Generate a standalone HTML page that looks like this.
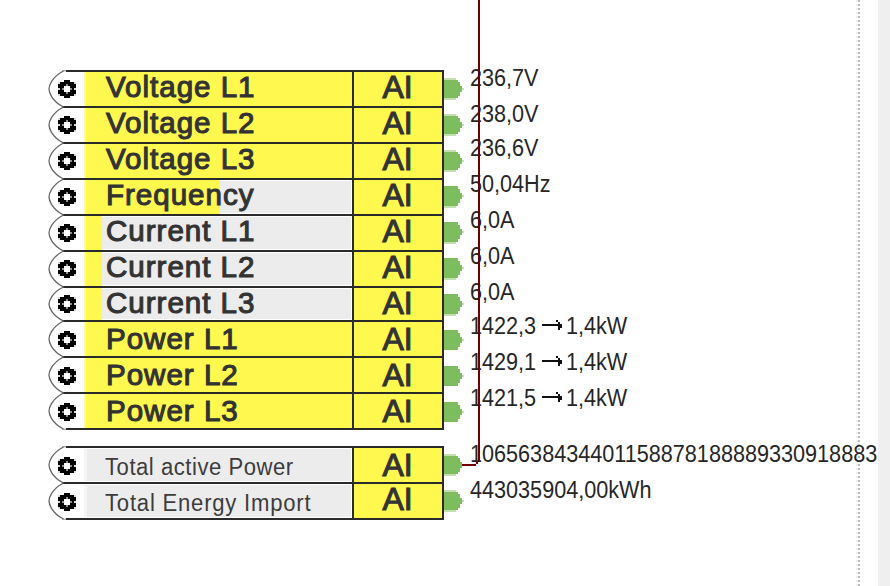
<!DOCTYPE html>
<html><head><meta charset="utf-8"><style>
html,body{margin:0;padding:0;background:#fff;width:890px;height:586px;overflow:hidden;position:relative;font-family:"Liberation Sans",sans-serif;}
.a{position:absolute;}
.ln{position:absolute;background:#2a2a2a;}
.lbl{position:absolute;left:106px;color:#333;white-space:nowrap;transform-origin:0 0;}
.b{font-weight:normal;font-size:30px;letter-spacing:1.0px;transform:scaleX(0.985);-webkit-text-stroke:1.1px #333;}
.r{color:#3c3c3c;font-size:23px;letter-spacing:0.7px;transform:scaleX(0.96);}
.ai{position:absolute;left:354px;width:88px;text-align:center;color:#333;}
.ai span{display:inline-block;font-weight:normal;font-size:31px;transform:scaleX(1.03);-webkit-text-stroke:1.1px #333;}
.val{position:absolute;left:470px;font-size:23px;letter-spacing:0px;color:#262626;white-space:nowrap;transform-origin:0 0;transform:scaleX(0.94);}
.ar{margin:0 1px;}
svg{shape-rendering:geometricPrecision}
.ck{shape-rendering:crispEdges}
</style></head><body>

<div class="a" style="left:878px;top:0;width:12px;height:586px;background:#efefef"></div>
<div class="a" style="left:858px;top:0;width:2px;height:586px;background:repeating-linear-gradient(to bottom,#bababa 0 2px,transparent 2px 4px)"></div>
<div class="a" style="left:856px;top:0;width:2px;height:586px;background:repeating-linear-gradient(to bottom,#f0f0f0 0 2px,transparent 2px 4px)"></div>
<div class="a" style="left:84px;top:72px;width:268px;height:34px;background:#fff84e"></div>
<div class="a" style="left:84px;top:72px;width:2px;height:34px;background:#fcf9a6"></div>
<div class="a" style="left:354px;top:72px;width:88px;height:34px;background:#fff84e"></div>
<div class="ln" style="left:66px;top:70px;width:378px;height:2px"></div>
<div class="a" style="left:62px;top:70px;width:4px;height:1px;background:#aaa"></div>
<div class="a" style="left:62px;top:71px;width:4px;height:1px;background:#ddd"></div>
<div class="ln" style="left:352px;top:70px;width:2px;height:38px"></div>
<div class="ln" style="left:442px;top:70px;width:2px;height:38px"></div>
<div class="lbl b" style="top:70px;line-height:34px">Voltage L1</div>
<div class="ai" style="top:71px;line-height:34px"><span>AI</span></div>
<div class="val" style="top:65px;line-height:26px">236,7V</div>
<div class="a" style="left:84px;top:108px;width:268px;height:34px;background:#fff84e"></div>
<div class="a" style="left:84px;top:108px;width:2px;height:34px;background:#fcf9a6"></div>
<div class="a" style="left:354px;top:108px;width:88px;height:34px;background:#fff84e"></div>
<div class="ln" style="left:62px;top:106px;width:382px;height:2px"></div>
<div class="ln" style="left:352px;top:106px;width:2px;height:38px"></div>
<div class="ln" style="left:442px;top:106px;width:2px;height:38px"></div>
<div class="lbl b" style="top:106px;line-height:34px">Voltage L2</div>
<div class="ai" style="top:107px;line-height:34px"><span>AI</span></div>
<div class="val" style="top:101px;line-height:26px">238,0V</div>
<div class="a" style="left:84px;top:144px;width:268px;height:34px;background:#fff84e"></div>
<div class="a" style="left:84px;top:144px;width:2px;height:34px;background:#fcf9a6"></div>
<div class="a" style="left:354px;top:144px;width:88px;height:34px;background:#fff84e"></div>
<div class="ln" style="left:62px;top:142px;width:382px;height:2px"></div>
<div class="ln" style="left:352px;top:142px;width:2px;height:38px"></div>
<div class="ln" style="left:442px;top:142px;width:2px;height:38px"></div>
<div class="lbl b" style="top:142px;line-height:34px">Voltage L3</div>
<div class="ai" style="top:143px;line-height:34px"><span>AI</span></div>
<div class="val" style="top:135px;line-height:26px">236,6V</div>
<div class="a" style="left:84px;top:181px;width:267px;height:32px;background:#ececec"></div>
<div class="a" style="left:84px;top:180px;width:136px;height:34px;background:#fff84e"></div>
<div class="a" style="left:84px;top:180px;width:2px;height:34px;background:#fcf9a6"></div>
<div class="a" style="left:354px;top:180px;width:88px;height:34px;background:#fff84e"></div>
<div class="ln" style="left:62px;top:178px;width:382px;height:2px"></div>
<div class="ln" style="left:352px;top:178px;width:2px;height:38px"></div>
<div class="ln" style="left:442px;top:178px;width:2px;height:38px"></div>
<div class="lbl b" style="top:178px;line-height:34px">Frequency</div>
<div class="ai" style="top:179px;line-height:34px"><span>AI</span></div>
<div class="val" style="top:171px;line-height:26px">50,04Hz</div>
<div class="a" style="left:84px;top:217px;width:267px;height:32px;background:#ececec"></div>
<div class="a" style="left:84px;top:216px;width:18px;height:34px;background:#fff84e"></div>
<div class="a" style="left:84px;top:216px;width:2px;height:34px;background:#fcf9a6"></div>
<div class="a" style="left:354px;top:216px;width:88px;height:34px;background:#fff84e"></div>
<div class="ln" style="left:62px;top:214px;width:382px;height:2px"></div>
<div class="ln" style="left:352px;top:214px;width:2px;height:38px"></div>
<div class="ln" style="left:442px;top:214px;width:2px;height:38px"></div>
<div class="lbl b" style="top:214px;line-height:34px">Current L1</div>
<div class="ai" style="top:215px;line-height:34px"><span>AI</span></div>
<div class="val" style="top:207px;line-height:26px">6,0A</div>
<div class="a" style="left:84px;top:253px;width:267px;height:32px;background:#ececec"></div>
<div class="a" style="left:84px;top:252px;width:18px;height:34px;background:#fff84e"></div>
<div class="a" style="left:84px;top:252px;width:2px;height:34px;background:#fcf9a6"></div>
<div class="a" style="left:354px;top:252px;width:88px;height:34px;background:#fff84e"></div>
<div class="ln" style="left:62px;top:250px;width:382px;height:2px"></div>
<div class="ln" style="left:352px;top:250px;width:2px;height:38px"></div>
<div class="ln" style="left:442px;top:250px;width:2px;height:38px"></div>
<div class="lbl b" style="top:250px;line-height:34px">Current L2</div>
<div class="ai" style="top:251px;line-height:34px"><span>AI</span></div>
<div class="val" style="top:243px;line-height:26px">6,0A</div>
<div class="a" style="left:84px;top:289px;width:267px;height:30px;background:#ececec"></div>
<div class="a" style="left:84px;top:288px;width:18px;height:32px;background:#fff84e"></div>
<div class="a" style="left:84px;top:288px;width:2px;height:32px;background:#fcf9a6"></div>
<div class="a" style="left:354px;top:288px;width:88px;height:32px;background:#fff84e"></div>
<div class="ln" style="left:62px;top:286px;width:382px;height:2px"></div>
<div class="ln" style="left:352px;top:286px;width:2px;height:36px"></div>
<div class="ln" style="left:442px;top:286px;width:2px;height:36px"></div>
<div class="lbl b" style="top:286px;line-height:34px">Current L3</div>
<div class="ai" style="top:287px;line-height:34px"><span>AI</span></div>
<div class="val" style="top:279px;line-height:26px">6,0A</div>
<div class="a" style="left:84px;top:322px;width:268px;height:34px;background:#fff84e"></div>
<div class="a" style="left:84px;top:322px;width:2px;height:34px;background:#fcf9a6"></div>
<div class="a" style="left:354px;top:322px;width:88px;height:34px;background:#fff84e"></div>
<div class="ln" style="left:62px;top:320px;width:382px;height:2px"></div>
<div class="ln" style="left:352px;top:320px;width:2px;height:38px"></div>
<div class="ln" style="left:442px;top:320px;width:2px;height:38px"></div>
<div class="lbl b" style="top:322px;line-height:34px">Power L1</div>
<div class="ai" style="top:323px;line-height:34px"><span>AI</span></div>
<div class="val" style="top:313px;line-height:26px;left:470px">1422,3</div>
<div class="val" style="top:313px;line-height:26px;left:566px">1,4kW</div>
<div class="a" style="left:84px;top:358px;width:268px;height:34px;background:#fff84e"></div>
<div class="a" style="left:84px;top:358px;width:2px;height:34px;background:#fcf9a6"></div>
<div class="a" style="left:354px;top:358px;width:88px;height:34px;background:#fff84e"></div>
<div class="ln" style="left:62px;top:356px;width:382px;height:2px"></div>
<div class="ln" style="left:352px;top:356px;width:2px;height:38px"></div>
<div class="ln" style="left:442px;top:356px;width:2px;height:38px"></div>
<div class="lbl b" style="top:358px;line-height:34px">Power L2</div>
<div class="ai" style="top:359px;line-height:34px"><span>AI</span></div>
<div class="val" style="top:349px;line-height:26px;left:470px">1429,1</div>
<div class="val" style="top:349px;line-height:26px;left:566px">1,4kW</div>
<div class="a" style="left:84px;top:394px;width:268px;height:34px;background:#fff84e"></div>
<div class="a" style="left:84px;top:394px;width:2px;height:34px;background:#fcf9a6"></div>
<div class="a" style="left:354px;top:394px;width:88px;height:34px;background:#fff84e"></div>
<div class="ln" style="left:62px;top:392px;width:382px;height:2px"></div>
<div class="ln" style="left:66px;top:428px;width:378px;height:2px"></div>
<div class="a" style="left:62px;top:429px;width:4px;height:1px;background:#aaa"></div>
<div class="a" style="left:62px;top:428px;width:4px;height:1px;background:#ddd"></div>
<div class="ln" style="left:352px;top:392px;width:2px;height:38px"></div>
<div class="ln" style="left:442px;top:392px;width:2px;height:38px"></div>
<div class="lbl b" style="top:394px;line-height:34px">Power L3</div>
<div class="ai" style="top:395px;line-height:34px"><span>AI</span></div>
<div class="val" style="top:385px;line-height:26px;left:470px">1421,5</div>
<div class="val" style="top:385px;line-height:26px;left:566px">1,4kW</div>
<div class="a" style="left:84px;top:449px;width:267px;height:32px;background:#ececec"></div>
<div class="a" style="left:84px;top:449px;width:3px;height:32px;background:#f4f4f4"></div>
<div class="a" style="left:354px;top:448px;width:88px;height:34px;background:#fff84e"></div>
<div class="ln" style="left:66px;top:446px;width:378px;height:2px"></div>
<div class="a" style="left:62px;top:446px;width:4px;height:1px;background:#aaa"></div>
<div class="a" style="left:62px;top:447px;width:4px;height:1px;background:#ddd"></div>
<div class="ln" style="left:352px;top:446px;width:2px;height:38px"></div>
<div class="ln" style="left:442px;top:446px;width:2px;height:38px"></div>
<div class="lbl r" style="top:450px;line-height:34px;left:105px;letter-spacing:0.55px">Total active Power</div>
<div class="ai" style="top:449px;line-height:34px"><span>AI</span></div>
<div class="val" style="top:441px;line-height:26px">1065638434401158878188889330918883</div>
<div class="a" style="left:84px;top:485px;width:267px;height:32px;background:#ececec"></div>
<div class="a" style="left:84px;top:485px;width:3px;height:32px;background:#f4f4f4"></div>
<div class="a" style="left:354px;top:484px;width:88px;height:34px;background:#fff84e"></div>
<div class="ln" style="left:62px;top:482px;width:382px;height:2px"></div>
<div class="ln" style="left:66px;top:518px;width:378px;height:2px"></div>
<div class="a" style="left:62px;top:519px;width:4px;height:1px;background:#aaa"></div>
<div class="a" style="left:62px;top:518px;width:4px;height:1px;background:#ddd"></div>
<div class="ln" style="left:352px;top:482px;width:2px;height:38px"></div>
<div class="ln" style="left:442px;top:482px;width:2px;height:38px"></div>
<div class="lbl r" style="top:486px;line-height:34px;left:105px;letter-spacing:0.82px">Total Energy Import</div>
<div class="ai" style="top:483px;line-height:34px"><span>AI</span></div>
<div class="val" style="top:477px;line-height:26px">443035904,00kWh</div>
<svg class="a" style="left:0;top:0" width="890" height="586" viewBox="0 0 890 586"><path d="M63.5,71.0 C51.1,77.3 49,86.6 49,89.0 C49,91.4 51.1,100.7 63.5,107.0" fill="none" stroke="#666" stroke-width="1.3"/><g transform="translate(58,80)"><g class="ck"><path fill="#000" fill-rule="evenodd" d="M6,0 H12 V2 H16 V4 H18 V8 H16 V10 H18 V14 H16 V16 H12 V18 H6 V16 H2 V14 H0 V10 H2 V8 H0 V4 H2 V2 H6 Z M6,6 V12 H12 V6 Z"/><g fill="#8c8c8c"><rect x="8" y="4" width="2" height="2"/><rect x="8" y="12" width="2" height="2"/><rect x="4" y="8" width="2" height="2"/><rect x="12" y="8" width="2" height="2"/></g><g fill="#d8d8d8"><rect x="0" y="2" width="2" height="2"/><rect x="16" y="2" width="2" height="2"/><rect x="0" y="14" width="2" height="2"/><rect x="16" y="14" width="2" height="2"/><rect x="0" y="8" width="2" height="2"/><rect x="16" y="8" width="2" height="2"/></g></g></g><g class="ck" transform="translate(444,70)"><rect x="0" y="8" width="12" height="22" fill="#c2e0b2"/><rect x="0" y="10" width="14" height="18" fill="#7dbd5e"/><rect x="14" y="12" width="2" height="14" fill="#7dbd5e"/><rect x="16" y="16" width="2" height="6" fill="#7dbd5e"/><rect x="18" y="18" width="2" height="2" fill="#c2e0b2"/></g><path d="M63.5,107.0 C51.1,113.3 49,122.6 49,125.0 C49,127.4 51.1,136.7 63.5,143.0" fill="none" stroke="#666" stroke-width="1.3"/><g transform="translate(58,116)"><g class="ck"><path fill="#000" fill-rule="evenodd" d="M6,0 H12 V2 H16 V4 H18 V8 H16 V10 H18 V14 H16 V16 H12 V18 H6 V16 H2 V14 H0 V10 H2 V8 H0 V4 H2 V2 H6 Z M6,6 V12 H12 V6 Z"/><g fill="#8c8c8c"><rect x="8" y="4" width="2" height="2"/><rect x="8" y="12" width="2" height="2"/><rect x="4" y="8" width="2" height="2"/><rect x="12" y="8" width="2" height="2"/></g><g fill="#d8d8d8"><rect x="0" y="2" width="2" height="2"/><rect x="16" y="2" width="2" height="2"/><rect x="0" y="14" width="2" height="2"/><rect x="16" y="14" width="2" height="2"/><rect x="0" y="8" width="2" height="2"/><rect x="16" y="8" width="2" height="2"/></g></g></g><g class="ck" transform="translate(444,106)"><rect x="0" y="8" width="12" height="22" fill="#c2e0b2"/><rect x="0" y="10" width="14" height="18" fill="#7dbd5e"/><rect x="14" y="12" width="2" height="14" fill="#7dbd5e"/><rect x="16" y="16" width="2" height="6" fill="#7dbd5e"/><rect x="18" y="18" width="2" height="2" fill="#c2e0b2"/></g><path d="M63.5,143.0 C51.1,149.3 49,158.6 49,161.0 C49,163.4 51.1,172.7 63.5,179.0" fill="none" stroke="#666" stroke-width="1.3"/><g transform="translate(58,152)"><g class="ck"><path fill="#000" fill-rule="evenodd" d="M6,0 H12 V2 H16 V4 H18 V8 H16 V10 H18 V14 H16 V16 H12 V18 H6 V16 H2 V14 H0 V10 H2 V8 H0 V4 H2 V2 H6 Z M6,6 V12 H12 V6 Z"/><g fill="#8c8c8c"><rect x="8" y="4" width="2" height="2"/><rect x="8" y="12" width="2" height="2"/><rect x="4" y="8" width="2" height="2"/><rect x="12" y="8" width="2" height="2"/></g><g fill="#d8d8d8"><rect x="0" y="2" width="2" height="2"/><rect x="16" y="2" width="2" height="2"/><rect x="0" y="14" width="2" height="2"/><rect x="16" y="14" width="2" height="2"/><rect x="0" y="8" width="2" height="2"/><rect x="16" y="8" width="2" height="2"/></g></g></g><g class="ck" transform="translate(444,142)"><rect x="0" y="8" width="12" height="22" fill="#c2e0b2"/><rect x="0" y="10" width="14" height="18" fill="#7dbd5e"/><rect x="14" y="12" width="2" height="14" fill="#7dbd5e"/><rect x="16" y="16" width="2" height="6" fill="#7dbd5e"/><rect x="18" y="18" width="2" height="2" fill="#c2e0b2"/></g><path d="M63.5,179.0 C51.1,185.3 49,194.6 49,197.0 C49,199.4 51.1,208.7 63.5,215.0" fill="none" stroke="#666" stroke-width="1.3"/><g transform="translate(58,188)"><g class="ck"><path fill="#000" fill-rule="evenodd" d="M6,0 H12 V2 H16 V4 H18 V8 H16 V10 H18 V14 H16 V16 H12 V18 H6 V16 H2 V14 H0 V10 H2 V8 H0 V4 H2 V2 H6 Z M6,6 V12 H12 V6 Z"/><g fill="#8c8c8c"><rect x="8" y="4" width="2" height="2"/><rect x="8" y="12" width="2" height="2"/><rect x="4" y="8" width="2" height="2"/><rect x="12" y="8" width="2" height="2"/></g><g fill="#d8d8d8"><rect x="0" y="2" width="2" height="2"/><rect x="16" y="2" width="2" height="2"/><rect x="0" y="14" width="2" height="2"/><rect x="16" y="14" width="2" height="2"/><rect x="0" y="8" width="2" height="2"/><rect x="16" y="8" width="2" height="2"/></g></g></g><g class="ck" transform="translate(444,178)"><rect x="0" y="8" width="12" height="22" fill="#c2e0b2"/><rect x="0" y="8" width="14" height="20" fill="#7dbd5e"/><rect x="14" y="11" width="2" height="14" fill="#7dbd5e"/><rect x="16" y="15" width="2" height="6" fill="#7dbd5e"/><rect x="18" y="17" width="2" height="2" fill="#c2e0b2"/></g><path d="M63.5,215.0 C51.1,221.3 49,230.6 49,233.0 C49,235.4 51.1,244.7 63.5,251.0" fill="none" stroke="#666" stroke-width="1.3"/><g transform="translate(58,224)"><g class="ck"><path fill="#000" fill-rule="evenodd" d="M6,0 H12 V2 H16 V4 H18 V8 H16 V10 H18 V14 H16 V16 H12 V18 H6 V16 H2 V14 H0 V10 H2 V8 H0 V4 H2 V2 H6 Z M6,6 V12 H12 V6 Z"/><g fill="#8c8c8c"><rect x="8" y="4" width="2" height="2"/><rect x="8" y="12" width="2" height="2"/><rect x="4" y="8" width="2" height="2"/><rect x="12" y="8" width="2" height="2"/></g><g fill="#d8d8d8"><rect x="0" y="2" width="2" height="2"/><rect x="16" y="2" width="2" height="2"/><rect x="0" y="14" width="2" height="2"/><rect x="16" y="14" width="2" height="2"/><rect x="0" y="8" width="2" height="2"/><rect x="16" y="8" width="2" height="2"/></g></g></g><g class="ck" transform="translate(444,214)"><rect x="0" y="8" width="12" height="22" fill="#c2e0b2"/><rect x="0" y="8" width="14" height="20" fill="#7dbd5e"/><rect x="14" y="11" width="2" height="14" fill="#7dbd5e"/><rect x="16" y="15" width="2" height="6" fill="#7dbd5e"/><rect x="18" y="17" width="2" height="2" fill="#c2e0b2"/></g><path d="M63.5,251.0 C51.1,257.3 49,266.6 49,269.0 C49,271.4 51.1,280.7 63.5,287.0" fill="none" stroke="#666" stroke-width="1.3"/><g transform="translate(58,260)"><g class="ck"><path fill="#000" fill-rule="evenodd" d="M6,0 H12 V2 H16 V4 H18 V8 H16 V10 H18 V14 H16 V16 H12 V18 H6 V16 H2 V14 H0 V10 H2 V8 H0 V4 H2 V2 H6 Z M6,6 V12 H12 V6 Z"/><g fill="#8c8c8c"><rect x="8" y="4" width="2" height="2"/><rect x="8" y="12" width="2" height="2"/><rect x="4" y="8" width="2" height="2"/><rect x="12" y="8" width="2" height="2"/></g><g fill="#d8d8d8"><rect x="0" y="2" width="2" height="2"/><rect x="16" y="2" width="2" height="2"/><rect x="0" y="14" width="2" height="2"/><rect x="16" y="14" width="2" height="2"/><rect x="0" y="8" width="2" height="2"/><rect x="16" y="8" width="2" height="2"/></g></g></g><g class="ck" transform="translate(444,250)"><rect x="0" y="8" width="12" height="22" fill="#c2e0b2"/><rect x="0" y="8" width="14" height="20" fill="#7dbd5e"/><rect x="14" y="11" width="2" height="14" fill="#7dbd5e"/><rect x="16" y="15" width="2" height="6" fill="#7dbd5e"/><rect x="18" y="17" width="2" height="2" fill="#c2e0b2"/></g><path d="M63.5,287.0 C51.1,292.95 49,301.73 49,304.0 C49,306.27 51.1,315.05 63.5,321.0" fill="none" stroke="#666" stroke-width="1.3"/><g transform="translate(58,295)"><g class="ck"><path fill="#000" fill-rule="evenodd" d="M6,0 H12 V2 H16 V4 H18 V8 H16 V10 H18 V14 H16 V16 H12 V18 H6 V16 H2 V14 H0 V10 H2 V8 H0 V4 H2 V2 H6 Z M6,6 V12 H12 V6 Z"/><g fill="#8c8c8c"><rect x="8" y="4" width="2" height="2"/><rect x="8" y="12" width="2" height="2"/><rect x="4" y="8" width="2" height="2"/><rect x="12" y="8" width="2" height="2"/></g><g fill="#d8d8d8"><rect x="0" y="2" width="2" height="2"/><rect x="16" y="2" width="2" height="2"/><rect x="0" y="14" width="2" height="2"/><rect x="16" y="14" width="2" height="2"/><rect x="0" y="8" width="2" height="2"/><rect x="16" y="8" width="2" height="2"/></g></g></g><g class="ck" transform="translate(444,286)"><rect x="0" y="8" width="12" height="22" fill="#c2e0b2"/><rect x="0" y="8" width="14" height="20" fill="#7dbd5e"/><rect x="14" y="11" width="2" height="14" fill="#7dbd5e"/><rect x="16" y="15" width="2" height="6" fill="#7dbd5e"/><rect x="18" y="17" width="2" height="2" fill="#c2e0b2"/></g><g class="ck" transform="translate(542,324)" fill="#111"><rect x="0" y="0" width="20" height="2"/><rect x="14" y="-4" width="2" height="2"/><rect x="16" y="-2" width="2" height="8"/><rect x="18" y="0" width="2" height="4"/></g><path d="M63.5,321.0 C51.1,327.3 49,336.6 49,339.0 C49,341.4 51.1,350.7 63.5,357.0" fill="none" stroke="#666" stroke-width="1.3"/><g transform="translate(58,331)"><g class="ck"><path fill="#000" fill-rule="evenodd" d="M6,0 H12 V2 H16 V4 H18 V8 H16 V10 H18 V14 H16 V16 H12 V18 H6 V16 H2 V14 H0 V10 H2 V8 H0 V4 H2 V2 H6 Z M6,6 V12 H12 V6 Z"/><g fill="#8c8c8c"><rect x="8" y="4" width="2" height="2"/><rect x="8" y="12" width="2" height="2"/><rect x="4" y="8" width="2" height="2"/><rect x="12" y="8" width="2" height="2"/></g><g fill="#d8d8d8"><rect x="0" y="2" width="2" height="2"/><rect x="16" y="2" width="2" height="2"/><rect x="0" y="14" width="2" height="2"/><rect x="16" y="14" width="2" height="2"/><rect x="0" y="8" width="2" height="2"/><rect x="16" y="8" width="2" height="2"/></g></g></g><g class="ck" transform="translate(444,320)"><rect x="0" y="10" width="14" height="20" fill="#7dbd5e"/><rect x="14" y="13" width="2" height="14" fill="#7dbd5e"/><rect x="16" y="17" width="2" height="6" fill="#7dbd5e"/><rect x="18" y="19" width="2" height="2" fill="#c2e0b2"/></g><g class="ck" transform="translate(542,360)" fill="#111"><rect x="0" y="0" width="20" height="2"/><rect x="14" y="-4" width="2" height="2"/><rect x="16" y="-2" width="2" height="8"/><rect x="18" y="0" width="2" height="4"/></g><path d="M63.5,357.0 C51.1,363.3 49,372.6 49,375.0 C49,377.4 51.1,386.7 63.5,393.0" fill="none" stroke="#666" stroke-width="1.3"/><g transform="translate(58,367)"><g class="ck"><path fill="#000" fill-rule="evenodd" d="M6,0 H12 V2 H16 V4 H18 V8 H16 V10 H18 V14 H16 V16 H12 V18 H6 V16 H2 V14 H0 V10 H2 V8 H0 V4 H2 V2 H6 Z M6,6 V12 H12 V6 Z"/><g fill="#8c8c8c"><rect x="8" y="4" width="2" height="2"/><rect x="8" y="12" width="2" height="2"/><rect x="4" y="8" width="2" height="2"/><rect x="12" y="8" width="2" height="2"/></g><g fill="#d8d8d8"><rect x="0" y="2" width="2" height="2"/><rect x="16" y="2" width="2" height="2"/><rect x="0" y="14" width="2" height="2"/><rect x="16" y="14" width="2" height="2"/><rect x="0" y="8" width="2" height="2"/><rect x="16" y="8" width="2" height="2"/></g></g></g><g class="ck" transform="translate(444,356)"><rect x="0" y="10" width="14" height="20" fill="#7dbd5e"/><rect x="14" y="13" width="2" height="14" fill="#7dbd5e"/><rect x="16" y="17" width="2" height="6" fill="#7dbd5e"/><rect x="18" y="19" width="2" height="2" fill="#c2e0b2"/></g><g class="ck" transform="translate(542,396)" fill="#111"><rect x="0" y="0" width="20" height="2"/><rect x="14" y="-4" width="2" height="2"/><rect x="16" y="-2" width="2" height="8"/><rect x="18" y="0" width="2" height="4"/></g><path d="M63.5,393.0 C51.1,399.3 49,408.6 49,411.0 C49,413.4 51.1,422.7 63.5,429.0" fill="none" stroke="#666" stroke-width="1.3"/><g transform="translate(58,403)"><g class="ck"><path fill="#000" fill-rule="evenodd" d="M6,0 H12 V2 H16 V4 H18 V8 H16 V10 H18 V14 H16 V16 H12 V18 H6 V16 H2 V14 H0 V10 H2 V8 H0 V4 H2 V2 H6 Z M6,6 V12 H12 V6 Z"/><g fill="#8c8c8c"><rect x="8" y="4" width="2" height="2"/><rect x="8" y="12" width="2" height="2"/><rect x="4" y="8" width="2" height="2"/><rect x="12" y="8" width="2" height="2"/></g><g fill="#d8d8d8"><rect x="0" y="2" width="2" height="2"/><rect x="16" y="2" width="2" height="2"/><rect x="0" y="14" width="2" height="2"/><rect x="16" y="14" width="2" height="2"/><rect x="0" y="8" width="2" height="2"/><rect x="16" y="8" width="2" height="2"/></g></g></g><g class="ck" transform="translate(444,392)"><rect x="0" y="10" width="14" height="20" fill="#7dbd5e"/><rect x="14" y="13" width="2" height="14" fill="#7dbd5e"/><rect x="16" y="17" width="2" height="6" fill="#7dbd5e"/><rect x="18" y="19" width="2" height="2" fill="#c2e0b2"/></g><path d="M63.5,447.0 C51.1,453.3 49,462.6 49,465.0 C49,467.4 51.1,476.7 63.5,483.0" fill="none" stroke="#666" stroke-width="1.3"/><g transform="translate(58,457)"><g class="ck"><path fill="#000" fill-rule="evenodd" d="M6,0 H12 V2 H16 V4 H18 V8 H16 V10 H18 V14 H16 V16 H12 V18 H6 V16 H2 V14 H0 V10 H2 V8 H0 V4 H2 V2 H6 Z M6,6 V12 H12 V6 Z"/><g fill="#8c8c8c"><rect x="8" y="4" width="2" height="2"/><rect x="8" y="12" width="2" height="2"/><rect x="4" y="8" width="2" height="2"/><rect x="12" y="8" width="2" height="2"/></g><g fill="#d8d8d8"><rect x="0" y="2" width="2" height="2"/><rect x="16" y="2" width="2" height="2"/><rect x="0" y="14" width="2" height="2"/><rect x="16" y="14" width="2" height="2"/><rect x="0" y="8" width="2" height="2"/><rect x="16" y="8" width="2" height="2"/></g></g></g><g class="ck" transform="translate(444,446)"><rect x="0" y="8" width="12" height="22" fill="#c2e0b2"/><rect x="0" y="10" width="14" height="18" fill="#7dbd5e"/><rect x="14" y="12" width="2" height="14" fill="#7dbd5e"/><rect x="16" y="16" width="2" height="6" fill="#7dbd5e"/><rect x="18" y="18" width="2" height="2" fill="#c2e0b2"/></g><path d="M63.5,483.0 C51.1,489.3 49,498.6 49,501.0 C49,503.4 51.1,512.7 63.5,519.0" fill="none" stroke="#666" stroke-width="1.3"/><g transform="translate(58,493)"><g class="ck"><path fill="#000" fill-rule="evenodd" d="M6,0 H12 V2 H16 V4 H18 V8 H16 V10 H18 V14 H16 V16 H12 V18 H6 V16 H2 V14 H0 V10 H2 V8 H0 V4 H2 V2 H6 Z M6,6 V12 H12 V6 Z"/><g fill="#8c8c8c"><rect x="8" y="4" width="2" height="2"/><rect x="8" y="12" width="2" height="2"/><rect x="4" y="8" width="2" height="2"/><rect x="12" y="8" width="2" height="2"/></g><g fill="#d8d8d8"><rect x="0" y="2" width="2" height="2"/><rect x="16" y="2" width="2" height="2"/><rect x="0" y="14" width="2" height="2"/><rect x="16" y="14" width="2" height="2"/><rect x="0" y="8" width="2" height="2"/><rect x="16" y="8" width="2" height="2"/></g></g></g><g class="ck" transform="translate(444,482)"><rect x="0" y="8" width="12" height="22" fill="#c2e0b2"/><rect x="0" y="10" width="14" height="18" fill="#7dbd5e"/><rect x="14" y="12" width="2" height="14" fill="#7dbd5e"/><rect x="16" y="16" width="2" height="6" fill="#7dbd5e"/><rect x="18" y="18" width="2" height="2" fill="#c2e0b2"/></g><g class="ck" fill="#6e0000"><rect x="478" y="0" width="2" height="462"/><rect x="476" y="462" width="2" height="2"/><rect x="462" y="464" width="14" height="2"/></g></svg>
</body></html>
